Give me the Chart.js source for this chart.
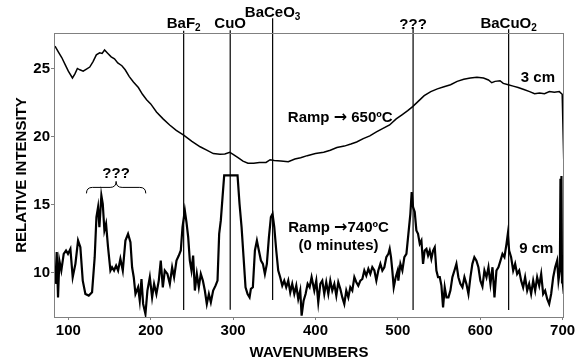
<!DOCTYPE html>
<html>
<head>
<meta charset="utf-8">
<script src="https://cdn.jsdelivr.net/npm/chart.js@4/dist/chart.umd.min.js"></script>
<style>
  html, body { margin: 0; padding: 0; background: #fff; }
  #wrap { width: 579px; height: 360px; }
</style>
</head>
<body>
<div id="wrap"><canvas id="grafico" width="579" height="360"></canvas></div>
<script>
// spectrum at 3 cm (ramp to 650 C)
const wavenumbers3cm = [83.8, 88, 92, 96, 100, 105, 108, 111, 114, 118, 122, 126, 130, 134, 138, 141, 144, 148, 152, 156, 160, 165, 169, 174, 179, 185, 190, 195, 200, 207, 215, 223, 231, 240, 250, 260, 268, 276, 284, 290, 296, 300, 306, 312, 318, 325, 332, 340, 345, 350, 358, 367, 375, 382, 390, 400, 410, 418, 426, 435, 443, 450, 458, 466, 474, 482, 490, 498, 505, 512, 518, 525, 532, 540, 548, 556, 564, 572, 580, 588, 596, 604, 610, 614, 618, 624, 628, 634, 640, 646, 653, 660, 666, 672, 678, 684, 690, 696, 699.5, 701.5];
const intensity3cm = [26.64, 26.2, 25.8, 25.3, 24.8, 24.3, 24.6, 25.0, 24.9, 24.8, 24.95, 25.1, 25.5, 26.0, 26.15, 26.1, 26.35, 26.1, 25.85, 25.7, 25.4, 25.2, 24.9, 24.4, 24.0, 23.6, 23.1, 22.7, 22.4, 21.8, 21.3, 20.85, 20.45, 20.1, 19.65, 19.25, 19.0, 18.75, 18.7, 18.72, 18.85, 18.7, 18.45, 18.2, 18.05, 18.05, 18.1, 18.1, 18.3, 18.25, 18.2, 18.15, 18.35, 18.45, 18.6, 18.75, 18.85, 19.0, 19.2, 19.3, 19.45, 19.6, 19.85, 20.05, 20.35, 20.6, 20.85, 21.3, 21.6, 21.9, 22.2, 22.6, 23.0, 23.3, 23.5, 23.65, 23.8, 24.05, 24.2, 24.3, 24.35, 24.3, 24.15, 23.95, 24.05, 24.1, 23.9, 23.8, 23.7, 23.6, 23.45, 23.3, 23.15, 23.2, 23.15, 23.3, 23.25, 23.3, 23.1, 18.0];

// spectrum at 9 cm (ramp to 740 C, 0 minutes)
const wavenumbers9cm = [84.3, 85.9, 87.5, 89.1, 91.5, 94.4, 97.2, 99.6, 102.5, 105.3, 108.6, 111.8, 114.6, 117.5, 120.7, 124.8, 128.8, 132, 134.1, 136.1, 137.7, 140.1, 141.8, 143.8, 145.8, 148.2, 151.1, 153.1, 155.5, 158, 160.4, 163.2, 166.1, 169.3, 172.5, 175.4, 177.4, 179.4, 181.5, 184.7, 186.7, 188.8, 190.8, 193.6, 196, 198.9, 201.7, 204.1, 206.9, 209.8, 212.2, 214.7, 217.1, 220.3, 223.2, 226, 228.4, 231.3, 234.1, 236.5, 238.6, 241.4, 243.4, 245.5, 247.5, 249.5, 251.5, 253.6, 256, 258.4, 260.8, 263.3, 265.7, 268.1, 270.6, 273, 275.8, 278.7, 281.1, 283.1, 285.1, 287.2, 289.2, 305.4, 307.8, 310.3, 312.7, 315.1, 317.6, 320, 321.6, 324, 326.5, 328.9, 331.3, 333.8, 336.2, 338.6, 341, 343.5, 345.9, 347.9, 350, 352.4, 354.8, 357.2, 359.7, 362.1, 364.5, 367, 369.4, 371.8, 374.3, 376.7, 379.1, 381.5, 383.2, 385.6, 388, 390.5, 392.9, 395.3, 398.6, 401, 403.4, 405.9, 408.3, 410.7, 413.1, 415.6, 418, 420.4, 422.9, 425.3, 427.7, 430.2, 432.6, 435, 437.4, 439.9, 442.3, 444.7, 447.2, 449.6, 452, 454.5, 456.9, 459.3, 461.7, 464.2, 466.6, 469, 471.5, 473.9, 476.3, 478.8, 481.2, 483.6, 486, 488.5, 490.1, 491.7, 493.3, 495, 497.4, 499.8, 500.6, 503.1, 505.5, 507.9, 510.4, 512.8, 515.2, 516.8, 518.5, 520.5, 522.5, 524.5, 526.6, 528.6, 530.6, 532.6, 534.7, 536.7, 538.7, 540.7, 542.8, 544.8, 546.8, 548.8, 550.9, 552.9, 554.9, 556.9, 559, 561.4, 563.8, 566.2, 568.7, 571.1, 573.5, 575.9, 578.4, 580.8, 583.2, 585.7, 588.1, 590.5, 592.9, 595.4, 597.8, 600.2, 602.7, 605.1, 607.6, 610, 612.4, 614.9, 617.3, 619.7, 622.1, 624.6, 627, 629.4, 631.9, 633.5, 635.1, 637.5, 640, 642.4, 644.8, 647.3, 649.7, 652.1, 654.5, 657, 659.4, 661.8, 664.3, 666.7, 669.1, 671.6, 674, 676.4, 678.8, 681.3, 683.7, 686.1, 688.6, 691, 693.4, 695, 696.7, 697.4, 698, 698.6, 699.3, 700.3, 701.5];
const intensity9cm = [9.19, 11.52, 8.2, 10.9, 10.17, 11.39, 11.64, 11.39, 11.76, 9.68, 10.66, 12.37, 11.88, 9.43, 8.45, 8.33, 8.57, 11.15, 14.09, 14.82, 13.35, 15.68, 15.07, 13.11, 13.6, 11.88, 10.17, 10.41, 10.17, 10.53, 10.17, 11.03, 10.17, 12.37, 12.86, 12.25, 10.41, 9.68, 8.45, 8.94, 7.96, 9.55, 7.72, 6.98, 8.7, 9.68, 8.2, 9.19, 8.45, 9.43, 10.9, 8.94, 10.17, 9.92, 9.19, 10.41, 9.68, 10.9, 11.27, 11.64, 13.35, 14.58, 13.72, 12.62, 10.9, 10.17, 11.27, 8.7, 9.92, 8.94, 9.92, 9.43, 8.7, 7.72, 8.45, 7.84, 8.7, 9.06, 9.43, 12.86, 13.85, 15.56, 17.15, 17.15, 15.07, 13.35, 11.15, 8.94, 8.45, 8.2, 8.82, 8.94, 11.64, 12.37, 11.64, 10.9, 10.66, 9.92, 10.66, 12.62, 14.09, 14.33, 13.35, 11.64, 10.17, 9.68, 9.06, 9.43, 8.94, 9.43, 8.57, 9.19, 8.45, 9.06, 8.08, 8.7, 6.86, 7.96, 8.45, 9.19, 8.94, 9.68, 8.7, 9.43, 7.84, 9.19, 9.43, 8.45, 9.31, 8.45, 9.43, 8.7, 9.19, 8.33, 9.31, 8.82, 8.2, 7.72, 8.7, 8.2, 8.94, 8.7, 9.68, 9.31, 9.06, 9.43, 9.55, 10.17, 9.8, 10.29, 9.92, 10.41, 10.17, 9.43, 10.17, 10.66, 10.17, 10.41, 11.15, 11.39, 11.76, 11.15, 10.17, 8.94, 9.68, 10.17, 9.43, 10.66, 10.17, 11.15, 11.39, 12.86, 14.33, 15.93, 14.82, 14.46, 13.11, 12.86, 12.13, 12.37, 10.66, 11.64, 11.76, 11.27, 11.64, 11.03, 11.64, 11.88, 10.17, 9.68, 9.68, 9.06, 7.47, 8.94, 8.2, 8.2, 8.7, 9.68, 10.17, 10.66, 9.68, 9.19, 8.94, 9.68, 9.19, 8.45, 9.68, 10.66, 11.15, 10.9, 10.41, 9.43, 9.0, 10.17, 9.68, 10.41, 9.19, 10.41, 8.2, 10.17, 10.41, 10.9, 11.39, 11.15, 12.13, 12.86, 11.64, 11.15, 10.17, 10.66, 9.92, 10.17, 9.43, 8.94, 9.68, 8.7, 9.19, 8.45, 9.43, 8.7, 9.68, 9.06, 9.92, 8.45, 8.7, 8.08, 7.72, 8.45, 9.68, 10.41, 10.9, 9.43, 10.17, 16.9, 10.5, 17.1, 9.3, 9.2, 8.45];

// assigned peaks
const peakPositions = [240, 296.5, 348, 518.5, 634.5];
const peakLabels = ["BaF_2", "CuO", "BaCeO_3", "???", "BaCuO_2"];
const peakTops = [27.76, 27.8, 28.68, 27.94, 27.87];
const peakBottoms = [7.28, 7.3, 8.0, 7.28, 7.28];

const xTicks = [100, 200, 300, 400, 500, 600, 700];
const yTicks = [10, 15, 20, 25];

const fontFamily = "'Liberation Sans', Arial, sans-serif";
const arrowFont = "bold 16px 'DejaVu Sans', sans-serif";

function toPoints(xs, ys) {
  return xs.map(function (x, i) {
    return { x: x, y: ys[i] };
  });
}

// text notes written on the plot, in data units
const notes = [
  { text: "3 cm", x: 670, y: 24.0 },
  { text: "Ramp \u2192 650\u00baC", x: 430, y: 21.07 },
  { text: "Ramp \u2192740\u00baC", x: 428, y: 13.0 },
  { text: "(0 minutes)", x: 428, y: 11.64 },
  { text: "9 cm", x: 668, y: 11.42 },
  { text: "???", x: 158, y: 16.93 }
];

function drawChem(ctx, label, cx, baseline) {
  const parts = label.split("_");
  const main = parts[0];
  const sub = parts[1] || "";
  ctx.font = "bold 15px " + fontFamily;
  const wMain = ctx.measureText(main).width;
  ctx.font = "bold 10px " + fontFamily;
  const wSub = ctx.measureText(sub).width;
  const start = cx - (wMain + wSub) / 2;
  ctx.textAlign = "left";
  ctx.textBaseline = "alphabetic";
  ctx.font = "bold 15px " + fontFamily;
  ctx.fillText(main, start, baseline);
  if (sub) {
    ctx.font = "bold 10px " + fontFamily;
    ctx.fillText(sub, start + wMain, baseline + 3.5);
  }
}

// centred text, with the arrow taken from a font that has a heavy one
function drawNote(ctx, text, cx, baseline) {
  const pieces = text.split("\u2192");
  const textFont = "bold 15px " + fontFamily;
  let total = 0;
  const widths = pieces.map(function (p) {
    ctx.font = textFont;
    return ctx.measureText(p).width;
  });
  ctx.font = arrowFont;
  const arrowW = ctx.measureText("\u2192").width;
  total = widths.reduce(function (a, b) { return a + b; }, 0) + arrowW * (pieces.length - 1);
  let x = cx - total / 2;
  ctx.textAlign = "left";
  ctx.textBaseline = "alphabetic";
  pieces.forEach(function (p, i) {
    ctx.font = textFont;
    ctx.fillText(p, x, baseline);
    x += widths[i];
    if (i < pieces.length - 1) {
      ctx.font = arrowFont;
      ctx.fillText("\u2192", x, baseline);
      x += arrowW;
    }
  });
}

const annotations = {
  id: "annotations",
  afterDatasetsDraw: function (chart) {
    const ctx = chart.ctx;
    const xs = chart.scales.x;
    const ys = chart.scales.y;
    const area = chart.chartArea;
    ctx.save();
    // frame around the plot
    ctx.strokeStyle = "#808080";
    ctx.lineWidth = 1;
    ctx.strokeRect(area.left + 0.5, area.top + 0.5, area.right - area.left - 1, area.bottom - area.top);

    ctx.fillStyle = "#000";
    peakLabels.forEach(function (label, i) {
      const cx = xs.getPixelForValue(peakPositions[i]);
      const baseline = label === "BaCeO_3" ? 16.7 : (label === "???" ? 29.3 : 27.5);
      drawChem(ctx, label, cx, baseline);
    });

    notes.forEach(function (n) {
      drawNote(ctx, n.text, xs.getPixelForValue(n.x), ys.getPixelForValue(n.y));
    });

    // brace over the unassigned group near 120-195
    const bl = xs.getPixelForValue(122);
    const br = xs.getPixelForValue(194);
    const bm = xs.getPixelForValue(158);
    const tip = ys.getPixelForValue(16.71);
    ctx.strokeStyle = "#000";
    ctx.lineWidth = 1;
    ctx.beginPath();
    ctx.moveTo(bl, tip + 12);
    ctx.quadraticCurveTo(bl, tip + 6, bl + 6, tip + 6);
    ctx.lineTo(bm - 6, tip + 6);
    ctx.quadraticCurveTo(bm, tip + 6, bm, tip);
    ctx.quadraticCurveTo(bm, tip + 6, bm + 6, tip + 6);
    ctx.lineTo(br - 6, tip + 6);
    ctx.quadraticCurveTo(br, tip + 6, br, tip + 12);
    ctx.stroke();
    ctx.restore();
  }
};

const peakDatasets = peakPositions.map(function (p, i) {
  return {
    data: [{ x: p, y: peakBottoms[i] }, { x: p, y: peakTops[i] }],
    borderColor: "#000",
    borderWidth: 1.2,
    pointRadius: 0,
    clip: false
  };
});

Chart.defaults.font.family = fontFamily;
Chart.defaults.color = "#000";

new Chart(document.getElementById("grafico"), {
  type: "line",
  data: {
    datasets: [
      {
        data: toPoints(wavenumbers3cm, intensity3cm),
        borderColor: "#000",
        borderWidth: 1.5,
        pointRadius: 0,
        tension: 0
      },
      {
        data: toPoints(wavenumbers9cm, intensity9cm),
        borderColor: "#000",
        borderWidth: 2.2,
        pointRadius: 0,
        tension: 0
      }
    ].concat(peakDatasets)
  },
  options: {
    responsive: false,
    animation: false,
    layout: { padding: { top: 33, right: 15, left: 0, bottom: 0 } },
    plugins: { legend: { display: false }, tooltip: { enabled: false } },
    scales: {
      x: {
        type: "linear",
        min: 82.6,
        max: 701.7,
        afterBuildTicks: function (scale) {
          scale.ticks = xTicks.map(function (v) { return { value: v }; });
        },
        afterFit: function (scale) { scale.height = 43; },
        grid: { display: true, drawOnChartArea: false, drawTicks: true, tickLength: 3, color: "#808080" },
        border: { display: false },
        ticks: { font: { size: 15, weight: "bold" }, padding: 2, maxRotation: 0 },
        title: {
          display: true,
          text: "WAVENUMBERS",
          font: { size: 15, weight: "bold", lineHeight: 1 },
          padding: { top: 0, bottom: 0 }
        }
      },
      y: {
        min: 6.76,
        max: 27.6,
        afterBuildTicks: function (scale) {
          scale.ticks = yTicks.map(function (v) { return { value: v }; });
        },
        afterFit: function (scale) { scale.width = 54; },
        grid: { display: true, drawOnChartArea: false, drawTicks: true, tickLength: 3, color: "#808080" },
        border: { display: false },
        ticks: { font: { size: 15, weight: "bold" }, padding: 1 },
        title: {
          display: true,
          text: "RELATIVE INTENSITY",
          font: { size: 15, weight: "bold", lineHeight: 1 },
          padding: { top: 14, bottom: 0 }
        }
      }
    }
  },
  plugins: [annotations]
});
</script>
</body>
</html>
